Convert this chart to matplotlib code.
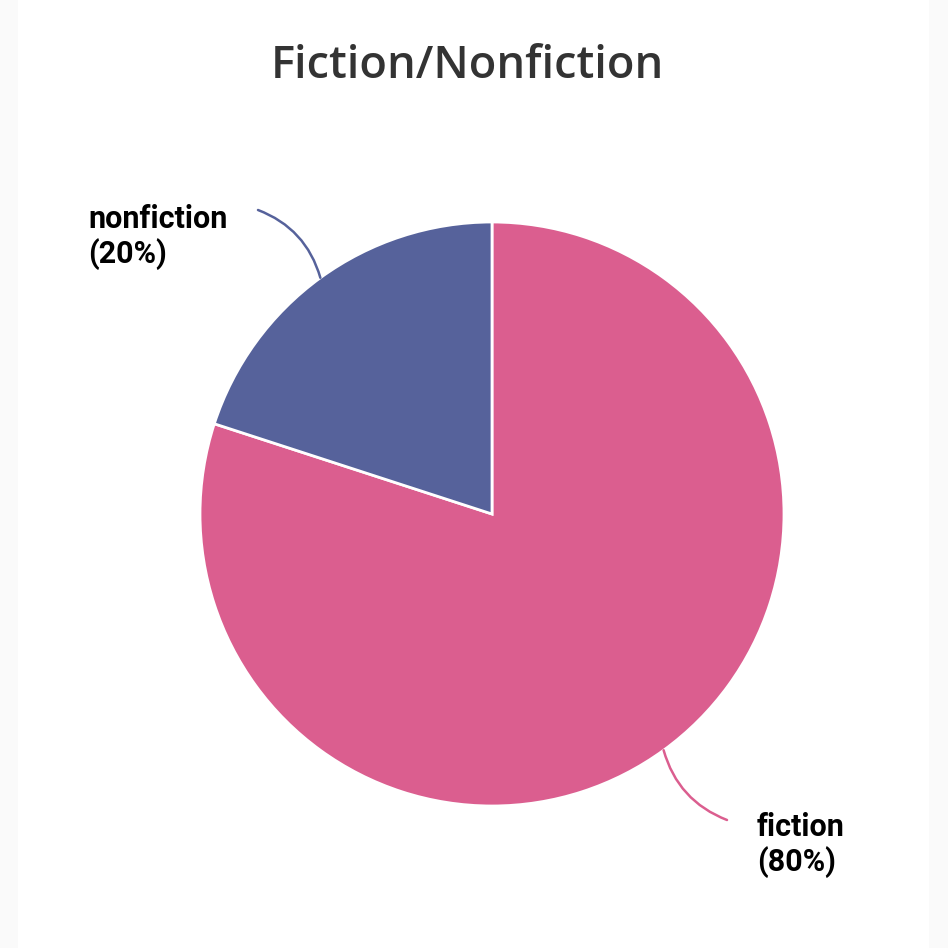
import numpy as np
import matplotlib.pyplot as plt
from matplotlib.patches import Rectangle

# data
labels = ["fiction", "nonfiction"]
shares = [80, 20]
colors = ["#db5e8f", "#56629b"]

W = 948
fig = plt.figure(figsize=(9.48, 9.48), dpi=100)
fig.patch.set_facecolor("#fafafa")
ax = fig.add_axes([0, 0, 1, 1])

# white card
ax.add_patch(Rectangle((18, 0), 911, W, facecolor="white", edgecolor="none", zorder=0))

cx, cy, r = 492, W - 514, 292
wedges, _ = ax.pie(shares, colors=colors, startangle=90, counterclock=False,
                   center=(cx, cy), radius=r, frame=True,
                   wedgeprops=dict(edgecolor="white", linewidth=2))
ax.set_xlim(0, W)
ax.set_ylim(0, W)
ax.set_aspect("equal")
ax.axis("off")

ax.text(467, W - 66, "Fiction/Nonfiction", ha="center", va="center",
        fontsize=32.5, color="#333333", family="Open Sans", fontweight="semibold")

# label placement per slice: (line end, text anchor)
line_ends = [(727, W - 820), (258, W - 210)]
text_pos = [(757, W - 845), (88, W - 237)]
rads = [0.25, 0.25]

for w, lab, val, end, tp, rad, col in zip(wedges, labels, shares, line_ends,
                                          text_pos, rads, colors):
    mid = np.deg2rad((w.theta1 + w.theta2) / 2)
    start = (cx + r * np.cos(mid), cy + r * np.sin(mid))
    ax.annotate("", xy=end, xytext=start,
                arrowprops=dict(arrowstyle="-", color=col, lw=1.8,
                                shrinkA=0, shrinkB=0,
                                connectionstyle=f"arc3,rad={rad}"))
    ax.text(tp[0], tp[1], f"{lab}\n({val}%)", ha="left", va="center",
            fontsize=22, fontweight="bold", family="Roboto", color="#000000",
            linespacing=1.2)

fig.savefig("out.png", dpi=100)
